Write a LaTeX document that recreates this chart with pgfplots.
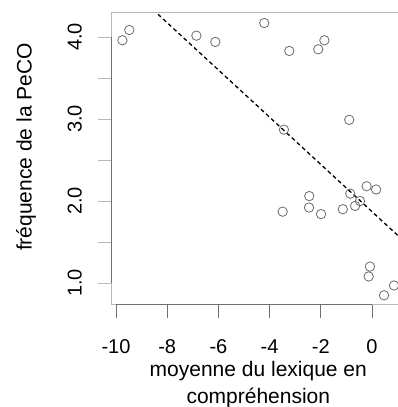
\documentclass[border=0pt]{standalone}
\usepackage{pgfplots}
\pgfplotsset{compat=1.18}
\usepackage{fontspec}
\setmainfont{Liberation Sans}
\definecolor{boxgray}{HTML}{B8B8B8}
\definecolor{axgray}{HTML}{707070}
\definecolor{ptgray}{HTML}{6A6A6A}
\begin{document}
\begin{tikzpicture}
\begin{axis}[
  scale only axis, width=293.3pt, height=292.2pt,
  xmin=-10.168, xmax=1.289, ymin=0.738, ymax=4.301,
  axis x line*=bottom, axis y line*=left,
  axis line style={boxgray, line width=0.8pt, -},
  xtick={-10,-8,-6,-4,-2,0}, xticklabels={-10,-8,-6,-4,-2,0},
  ytick={1,1.5,2,2.5,3,3.5,4}, yticklabels={1.0,,2.0,,3.0,,4.0},
  tick align=outside, major tick length=13.5pt,
  x tick style={axgray, line width=0.8pt},
  y tick style={boxgray, line width=0.8pt},
  ticklabel style={font=\fontsize{20}{24}\selectfont},
  xticklabel style={anchor=base, inner sep=0pt, yshift=-35pt},
  yticklabel style={anchor=base, inner sep=0pt, xshift=-16.5pt, rotate=90},
  clip=true,
]
\addplot[only marks, mark=o, mark size=4.7pt, mark options={ptgray, line width=0.8pt}] coordinates {
(-9.75,3.96) (-9.48,4.085) (-6.86,4.016) (-6.12,3.94) (-4.21,4.17)
(-3.23,3.83) (-2.10,3.85) (-1.86,3.96) (-0.89,2.99) (-3.44,2.87)
(-0.21,2.18) (0.16,2.14) (-2.45,2.06) (-0.85,2.09) (-0.47,2.00)
(-0.66,1.94) (-1.14,1.90) (-2.46,1.92) (-1.99,1.84) (-3.49,1.87)
(-0.08,1.20) (-0.13,1.08) (0.86,0.97) (0.47,0.85)
};
\addplot[black, line width=1.3pt, dash pattern=on 4pt off 3pt] coordinates {(-10.168,4.798) (1.289,1.499)};
\end{axis}
\draw[boxgray, line width=0.8pt] (0,292.2pt) -- (293.3pt,292.2pt);
\draw[axgray, line width=0.8pt] (0,21.48pt) -- (0,267.5pt);
\draw[axgray, line width=0.8pt] (4.3pt,0) -- (260.3pt,0);
\node[anchor=base, font=\fontsize{21}{24}\selectfont] at (146.6pt,-72.2pt) {moyenne du lexique en};
\node[anchor=base, font=\fontsize{21}{24}\selectfont] at (146.6pt,-98.8pt) {compréhension};
\node[anchor=base, rotate=90, font=\fontsize{21}{24}\selectfont] at (-80pt,157.5pt) {fréquence de la PeCO};
\pgfresetboundingbox
\useasboundingbox (-111.7pt,-102.5pt) rectangle (286.3pt,304.5pt);
\end{tikzpicture}
\end{document}
